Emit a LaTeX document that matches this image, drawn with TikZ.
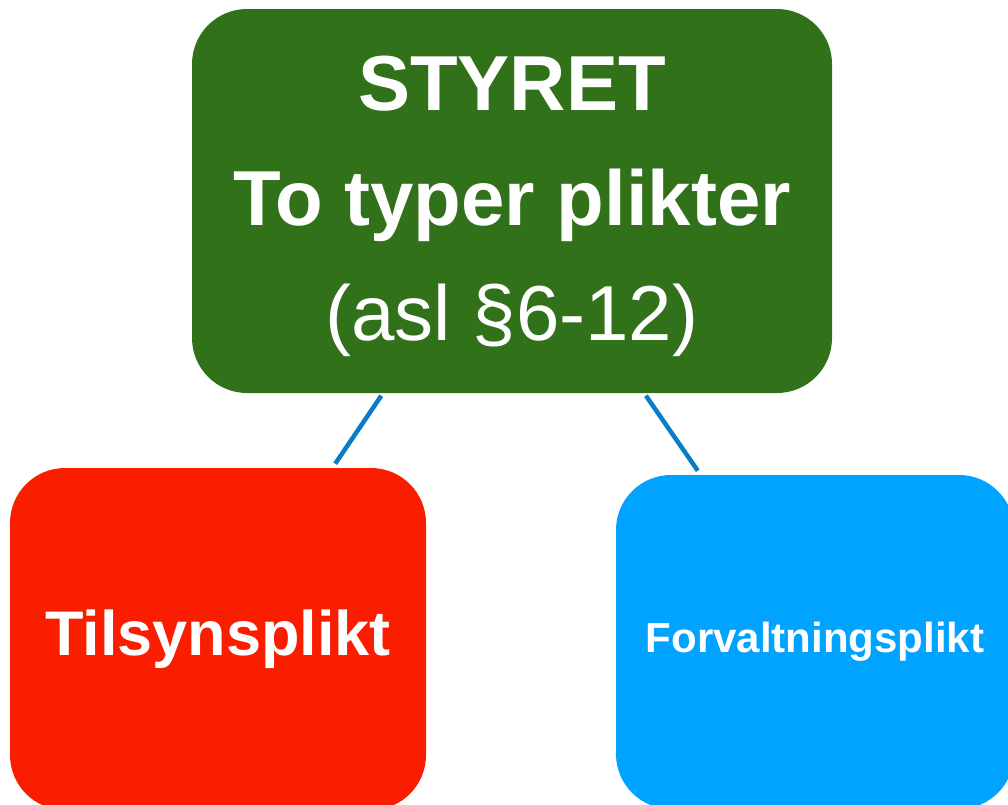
\documentclass[tikz,border=0pt]{standalone}
\usepackage{fontspec}
\setmainfont{Liberation Sans}
\usepackage{xcolor}

\definecolor{styregreen}{HTML}{31711A}
\definecolor{tilsynred}{HTML}{FA1E00}
\definecolor{forvaltblue}{HTML}{00A3FF}
\definecolor{linkblue}{HTML}{0A7CC6}

\tikzset{
  dutybox/.style={rounded corners=55pt, text=white, align=center, inner sep=0pt},
  dutylink/.style={draw=linkblue, line width=4.5pt, shorten <=3pt, shorten >=5pt}
}

\begin{document}
\begin{tikzpicture}[x=1pt,y=-1pt]

\useasboundingbox (0,0) rectangle (1008,804);
\clip (0,0) rectangle (1008,804);

\node[dutybox, fill=styregreen, minimum width=640, minimum height=384,
      font=\fontsize{78}{115}\selectfont] (styret) at (512,201)
      {\rule{0pt}{66pt}\textbf{STYRET}\\\textbf{To typer plikter}\\(asl §6-12)};

\node[dutybox, fill=tilsynred, minimum width=416, minimum height=342,
      font=\fontsize{63}{70}\selectfont\bfseries] (tilsyn) at (218,639) {Tilsynsplikt};

\node[dutybox, fill=forvaltblue, minimum width=398, minimum height=334,
      font=\fontsize{42}{48}\selectfont\bfseries] (forvalt) at (815,642) {Forvaltningsplikt};

\draw[dutylink] (styret) -- (tilsyn);
\draw[dutylink] (styret) -- (forvalt);

\end{tikzpicture}
\end{document}
